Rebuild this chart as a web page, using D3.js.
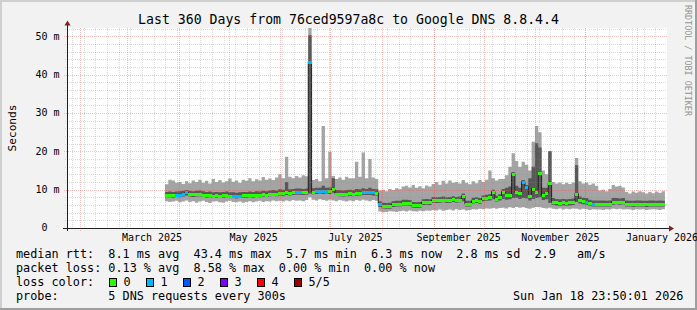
<!DOCTYPE html>
<html>
<head>
<meta charset="utf-8">
<script src="https://cdn.jsdelivr.net/npm/d3@7"></script>
<style>
  html, body { margin: 0; padding: 0; background: #f2f2f2; }
  svg { display: block; font-family: 'DejaVu Sans Mono', monospace; }
  .pre { white-space: pre; }
</style>
</head>
<body>
<svg id="chart" width="697" height="310"></svg>
<script>
// ---- data (ms), one point every 2 days from 23 Mar 2025 ----
const startTime = Date.UTC(2025, 2, 23, 18);
const stepMs = 2 * 86400000;

const median = [
  8.6,8.6,8.6,8.7,8.7,8.8,9.3,8.9,8.8,8.8,
  8.9,8.7,8.5,8.6,8.4,8.5,8.4,8.5,8.6,8.4,
  8.4,8.3,8.4,8.5,8.5,8.6,8.5,8.7,8.6,8.8,
  8.7,8.9,9.0,8.9,9.2,9.1,9.3,9.2,9.3,9.4,
  9.4,9.3,9.4,43.4,9.5,9.6,9.6,9.6,9.6,9.6,
  10.1,9.0,9.0,8.9,9.0,9.1,9.0,9.1,9.2,9.3,
  9.3,9.3,9.3,9.2,6.2,5.8,5.7,5.7,6.2,6.3,
  6.3,6.6,6.6,6.5,6.0,5.9,6.0,6.7,6.8,6.7,
  7.3,7.2,7.3,7.4,7.2,7.3,7.5,7.3,7.4,8.4,
  6.3,6.3,7.1,7.2,7.0,7.7,7.9,8.0,9.5,7.6,
  8.0,9.5,8.6,8.7,14.2,9.3,9.1,12.1,10.8,8.4,
  10.3,9.5,14.4,8.6,9.2,11.7,6.9,6.7,6.6,6.7,
  6.6,6.7,6.8,9.0,7.2,7.0,6.9,6.5,6.3,6.3,
  6.3,6.3,6.3,6.3,6.9,6.9,6.8,6.9,6.3,6.3,
  6.2,6.3,6.3,6.3,6.2,6.3,6.3,6.3,6.3,6.3
];

// lost pings out of 5 for each point
const loss = [
  0,0,0,1,1,1,1,0,0,0, 0,0,0,0,0,0,0,0,0,0,
  1,1,1,0,0,0,0,0,0,0, 0,0,0,0,0,0,0,0,0,1,
  1,0,0,1,0,1,1,1,1,0, 0,0,0,0,0,0,0,0,0,1,
  1,1,1,0,1,0,0,0,0,0, 0,0,0,0,0,0,0,0,0,0,
  0,0,0,0,0,0,0,0,0,0, 0,0,0,0,0,0,0,0,0,0,
  0,0,0,0,0,0,0,1,1,0, 0,0,0,0,0,0,0,0,0,0,
  0,0,0,0,0,0,1,0,1,0, 0,0,0,0,0,0,0,0,0,0,
  0,0,0,0,0,0,0,0,0,0
];

// smoke: outer (min..max ping) and inner (2nd..4th ping)
const smokeHi = [
  11.4,12.6,12.4,11.8,12.0,11.5,12.2,11.7,12.4,12.0,
  12.6,11.8,12.3,11.6,12.8,12.0,12.5,11.9,12.2,12.9,
  12.1,12.4,11.8,12.6,12.3,13.0,12.2,12.7,12.4,13.3,
  12.6,12.9,12.5,13.2,14.0,13.0,18.6,13.4,13.0,13.6,
  13.2,13.8,13.5,52.2,12.5,12.8,12.2,26.6,13.0,19.9,
  13.6,12.8,13.2,12.6,13.4,13.0,13.0,17.3,13.4,19.7,
  13.0,18.0,13.2,12.8,9.8,10.0,9.6,10.2,9.9,10.4,
  10.1,10.8,11.0,10.6,11.2,10.5,10.9,10.4,11.1,10.8,
  11.5,12.0,11.3,12.3,11.6,12.4,11.8,12.0,11.6,12.5,
  11.8,11.4,12.2,11.7,12.5,12.0,12.6,15.0,13.0,12.4,
  12.8,12.8,13.8,16.0,19.5,17.5,16.0,17.3,16.5,15.0,
  22.5,26.6,25.0,15.0,14.0,20.0,12.0,11.6,11.9,11.4,
  11.8,11.5,11.9,18.3,12.2,11.6,11.9,11.3,11.6,11.0,
  9.8,10.0,9.6,10.2,11.2,10.8,11.0,10.6,9.4,9.0,
  9.5,9.2,9.6,9.3,9.0,9.4,9.1,9.5,9.2,9.6
];
const smokeLo = [
  7.0,6.8,6.9,7.1,6.7,6.9,7.2,6.8,7.0,6.6,
  6.9,7.1,6.8,6.5,6.9,7.0,6.7,6.6,6.9,7.1,
  6.8,6.7,6.9,6.6,6.8,7.0,6.7,6.9,7.1,6.8,
  7.0,6.9,7.2,7.0,7.1,6.9,7.2,7.0,7.3,7.1,
  7.2,7.0,7.3,8.0,7.4,7.2,7.5,7.3,7.1,7.4,
  7.2,7.0,7.3,7.1,6.9,7.2,7.0,7.3,7.1,7.4,
  7.2,7.0,7.3,7.1,4.3,4.1,4.2,4.4,4.3,4.2,
  4.4,4.5,4.3,4.6,4.4,4.3,4.5,4.4,4.6,4.5,
  4.7,4.6,4.8,4.5,4.7,4.8,4.6,4.9,4.7,4.8,
  4.6,4.7,4.9,4.8,5.0,4.9,5.1,5.0,5.2,5.0,
  5.2,5.3,5.1,5.4,5.2,5.5,5.3,5.4,5.2,5.0,
  5.3,5.5,5.4,5.2,5.1,5.3,5.0,4.9,5.1,4.8,
  5.0,4.9,5.1,5.0,4.8,5.0,4.9,4.7,4.9,4.8,
  4.8,4.7,4.9,4.8,5.0,4.9,5.0,4.8,4.9,4.8,
  4.7,4.9,4.8,4.9,4.7,4.8,4.9,4.8,4.7,4.9
];
const innerLo = [
  8.0,8.0,7.9,8.1,8.0,8.2,8.5,8.2,8.1,8.2,
  8.3,8.1,7.9,8.0,7.8,7.9,7.8,7.9,8.0,7.8,
  7.8,7.7,7.8,7.9,7.9,8.0,7.9,8.1,8.0,8.2,
  8.1,8.3,8.4,8.3,8.5,8.4,8.6,8.5,8.6,8.7,
  8.7,8.6,8.7,9.0,8.8,8.9,9.0,8.9,9.0,8.9,
  9.2,8.4,8.3,8.2,8.3,8.4,8.3,8.4,8.5,8.6,
  8.6,8.6,8.5,8.5,5.5,5.1,5.0,5.0,5.5,5.6,
  5.6,5.9,5.9,5.8,5.3,5.2,5.3,6.0,6.1,6.0,
  6.6,6.5,6.6,6.7,6.5,6.6,6.8,6.6,6.7,7.0,
  5.6,5.6,6.4,6.5,6.3,7.0,7.1,7.2,7.5,6.9,
  7.2,7.6,7.4,7.5,7.8,7.9,7.6,7.8,7.7,7.2,
  7.6,7.8,8.0,7.3,7.5,6.5,6.1,5.9,5.8,5.9,
  5.8,5.9,6.0,6.8,6.4,6.2,6.1,5.8,5.6,5.6,
  5.6,5.6,5.6,5.6,6.1,6.2,6.1,6.2,5.6,5.6,
  5.5,5.6,5.6,5.6,5.5,5.6,5.6,5.6,5.6,5.6
];
const innerHi = [
  9.4,9.5,9.4,9.5,9.6,9.7,9.9,9.7,9.6,9.7,
  9.8,9.6,9.4,9.5,9.3,9.4,9.3,9.4,9.5,9.3,
  9.3,9.2,9.3,9.4,9.4,9.5,9.4,9.6,9.5,9.7,
  9.6,9.8,9.9,9.8,10.1,10.0,12.0,10.1,10.2,10.3,
  10.3,10.2,10.3,50.3,10.4,10.5,10.5,11.0,10.5,10.6,
  13.0,9.9,9.9,9.8,9.9,10.0,9.9,10.2,10.1,10.4,
  10.2,10.5,10.2,10.1,7.0,6.6,6.5,6.6,7.0,7.1,
  7.1,7.4,7.4,7.3,6.8,6.7,6.8,7.5,7.6,7.5,
  8.1,8.0,8.1,8.2,8.0,8.1,8.3,8.1,8.2,9.0,
  7.1,7.1,7.9,8.0,7.8,8.5,8.7,8.8,10.0,8.4,
  8.8,10.2,10.5,10.8,14.6,11.0,10.5,12.5,11.2,13.0,
  16.0,22.1,21.0,10.5,10.5,20.0,7.8,7.6,7.5,7.6,
  7.5,7.6,7.7,16.4,8.2,7.9,7.8,7.4,7.2,7.2,
  7.2,7.2,7.1,7.2,7.8,7.8,7.7,7.8,7.2,7.1,
  7.1,7.2,7.2,7.1,7.1,7.2,7.2,7.1,7.2,7.1
];

const lossLabels = ["0", "1", "2", "3", "4", "5/5"];
const lossColors = ["#26ff00", "#00b8ff", "#0059ff", "#7e00ff", "#ff0000", "#a10000"];
const yTicks = [0, 10, 20, 30, 40, 50];

const titleText = "Last 360 Days from 76ced9597a8c to Google DNS 8.8.4.4";
const legendRows = [
  "median rtt:  8.1 ms avg  43.4 ms max  5.7 ms min  6.3 ms now  2.8 ms sd  2.9   am/s",
  "packet loss: 0.13 % avg  8.58 % max  0.00 % min  0.00 % now",
  "loss color:",
  "probe:       5 DNS requests every 300s"
];
const stampText = "Sun Jan 18 23:50:01 2026";

// ---- layout ----
const W = 697, H = 310;
const pLeft = 67, pRight = 667, pTop = 28, pBottom = 228;
const t0 = new Date(Date.UTC(2025, 0, 23, 23, 50, 1));
const t1 = new Date(Date.UTC(2026, 0, 18, 23, 50, 1));

const x = d3.scaleUtc().domain([t0, t1]).range([pLeft, pRight]);
const y = d3.scaleLinear().domain([0, 52.2]).range([pBottom, pTop]);

const svg = d3.select("#chart");

svg.append("rect").attr("width", W).attr("height", H).attr("fill", "#f2f2f2");
svg.append("path").attr("d", `M0,0H${W}V2H2V${H}H0Z`).attr("fill", "#cfcfcf");
svg.append("path").attr("d", `M${W},${H}H0V${H - 2}H${W - 2}V0H${W}Z`).attr("fill", "#9e9e9e");

svg.append("rect")
  .attr("x", pLeft).attr("y", pTop)
  .attr("width", pRight - pLeft).attr("height", pBottom - pTop)
  .attr("fill", "#ffffff");

// table of points (plus an end point so the last step gets a width)
const pts = median.map((m, i) => ({
  t: new Date(startTime + i * stepMs),
  med: m, loss: loss[i],
  lo: smokeLo[i], hi: smokeHi[i], ilo: innerLo[i], ihi: innerHi[i]
}));
const last = pts[pts.length - 1];
const ptsEnd = pts.concat([Object.assign({}, last, { t: new Date(startTime + pts.length * stepMs) })]);

const plot = svg.append("g");

plot.append("path")
  .datum(ptsEnd)
  .attr("fill", "#a4a4a4")
  .attr("d", d3.area().curve(d3.curveStepAfter)
    .x(d => x(d.t)).y0(d => y(d.lo)).y1(d => y(d.hi)));

plot.append("path")
  .datum(ptsEnd)
  .attr("fill", "#585858")
  .attr("d", d3.area().curve(d3.curveStepAfter)
    .x(d => x(d.t)).y0(d => y(d.ilo)).y1(d => y(d.ihi)));

// thin dark median line joins the steps
plot.append("path")
  .datum(ptsEnd)
  .attr("fill", "none")
  .attr("stroke", "#202020")
  .attr("stroke-width", 1)
  .attr("d", d3.line().curve(d3.curveStepAfter).x(d => x(d.t)).y(d => y(d.med)));

// coloured median by loss (3px bars, crisp so neighbours join without seams)
plot.append("g")
  .attr("shape-rendering", "crispEdges")
  .selectAll("rect")
  .data(pts)
  .join("rect")
  .attr("x", d => Math.round(x(d.t)))
  .attr("width", d => Math.round(x(new Date(+d.t + stepMs))) - Math.round(x(d.t)))
  .attr("y", d => Math.round(y(d.med)) - 1)
  .attr("height", 3)
  .attr("fill", d => lossColors[d.loss]);

// ---- grid (drawn over the data, like rrdtool) ----
const grid = svg.append("g").attr("shape-rendering", "crispEdges");
const minorCol = "rgba(143,143,143,0.32)";
const majorCol = "rgba(222,79,79,0.36)";

const weeks = d3.utcMonday.range(t0, t1);
const months = d3.utcMonth.range(t0, t1);
const yMinor = d3.range(2, 52.2, 2).filter(v => v % 10 !== 0);

grid.selectAll("line.vmin").data(weeks).join("line")
  .attr("x1", d => Math.round(x(d)) + 0.5).attr("x2", d => Math.round(x(d)) + 0.5)
  .attr("y1", pTop).attr("y2", pBottom + 2)
  .attr("stroke", minorCol).attr("stroke-dasharray", "1,1");

grid.selectAll("line.hmin").data(yMinor).join("line")
  .attr("x1", pLeft - 2).attr("x2", pRight)
  .attr("y1", d => Math.round(y(d)) + 0.5).attr("y2", d => Math.round(y(d)) + 0.5)
  .attr("stroke", minorCol).attr("stroke-dasharray", "1,1");

grid.selectAll("line.vmaj").data(months).join("line")
  .attr("x1", d => Math.round(x(d)) + 0.5).attr("x2", d => Math.round(x(d)) + 0.5)
  .attr("y1", pTop).attr("y2", pBottom + 3)
  .attr("stroke", majorCol).attr("stroke-dasharray", "1,1");

grid.selectAll("line.hmaj").data(yTicks.filter(v => v > 0)).join("line")
  .attr("x1", pLeft - 3).attr("x2", pRight)
  .attr("y1", d => Math.round(y(d)) + 0.5).attr("y2", d => Math.round(y(d)) + 0.5)
  .attr("stroke", majorCol).attr("stroke-dasharray", "1,1");

// ---- axes ----
const axisCol = "#1f1f1f";
svg.append("line")
  .attr("x1", pLeft - 4).attr("x2", pRight + 3)
  .attr("y1", pBottom + 0.5).attr("y2", pBottom + 0.5)
  .attr("stroke", axisCol);
svg.append("line")
  .attr("x1", pLeft + 0.5).attr("x2", pLeft + 0.5)
  .attr("y1", pBottom + 3).attr("y2", pTop - 3)
  .attr("stroke", axisCol);
svg.append("path")
  .attr("d", `M${pLeft - 2.5},${pTop - 2.5}L${pLeft + 3.5},${pTop - 2.5}L${pLeft + 0.5},${pTop - 7.5}Z`)
  .attr("fill", "#801f1f");
svg.append("path")
  .attr("d", `M${pRight + 2},${pBottom - 2.5}L${pRight + 2},${pBottom + 3.5}L${pRight + 7},${pBottom + 0.5}Z`)
  .attr("fill", "#801f1f");

// y labels
svg.selectAll("text.ylab").data(yTicks).join("text")
  .attr("class", "ylab")
  .attr("x", d => d === 0 ? 47.5 : 59.5)
  .attr("y", d => y(d) + 3.3)
  .attr("text-anchor", "end")
  .attr("font-size", "10px")
  .attr("fill", "#000")
  .text(d => d === 0 ? "0" : d + " m");

// x labels, centred half a month after each other month start
const labelMonths = d3.utcMonth.every(2).range(t0, t1);
const fmt = d3.utcFormat("%B %Y");
svg.selectAll("text.xlab").data(labelMonths).join("text")
  .attr("class", "xlab")
  .attr("x", d => x(d3.utcDay.offset(d, 15)))
  .attr("y", 241.3)
  .attr("text-anchor", "middle")
  .attr("font-size", "10px")
  .attr("fill", "#000")
  .text(d => fmt(d));

// axis title
svg.append("text")
  .attr("transform", `translate(15.5,${(pTop + pBottom) / 2}) rotate(-90)`)
  .attr("text-anchor", "middle")
  .attr("font-size", "11.2px")
  .text("Seconds");

// title
svg.append("text")
  .attr("x", W / 2).attr("y", 24)
  .attr("text-anchor", "middle")
  .attr("font-size", "13.2px")
  .text(titleText);

// watermark
svg.append("text")
  .attr("transform", "translate(685,5) rotate(90)")
  .attr("font-size", "8.4px")
  .attr("fill", "#959595")
  .text("RRDTOOL / TOBI OETIKER");

// ---- legend ----
const legendY = [258, 272, 285.8, 299.5];
svg.selectAll("text.leg").data(legendRows).join("text")
  .attr("class", "leg pre")
  .attr("xml:space", "preserve")
  .attr("x", 16)
  .attr("y", (d, i) => legendY[i])
  .attr("font-size", "11.8px")
  .text(d => d);

const boxX = d3.scaleLinear().domain([0, 1]).range([108.5, 145.5]);
const lc = svg.append("g");
lc.selectAll("rect").data(lossColors).join("rect")
  .attr("x", (d, i) => Math.round(boxX(i)) + 0.5)
  .attr("y", 278.5)
  .attr("width", 7).attr("height", 8)
  .attr("fill", d => d)
  .attr("stroke", "#000");
lc.selectAll("text").data(lossLabels).join("text")
  .attr("x", (d, i) => boxX(i) + 15)
  .attr("y", legendY[2])
  .attr("font-size", "11.8px")
  .text(d => d);

svg.append("text")
  .attr("x", 513)
  .attr("y", legendY[3])
  .attr("font-size", "11.8px")
  .text(stampText);
</script>
</body>
</html>
